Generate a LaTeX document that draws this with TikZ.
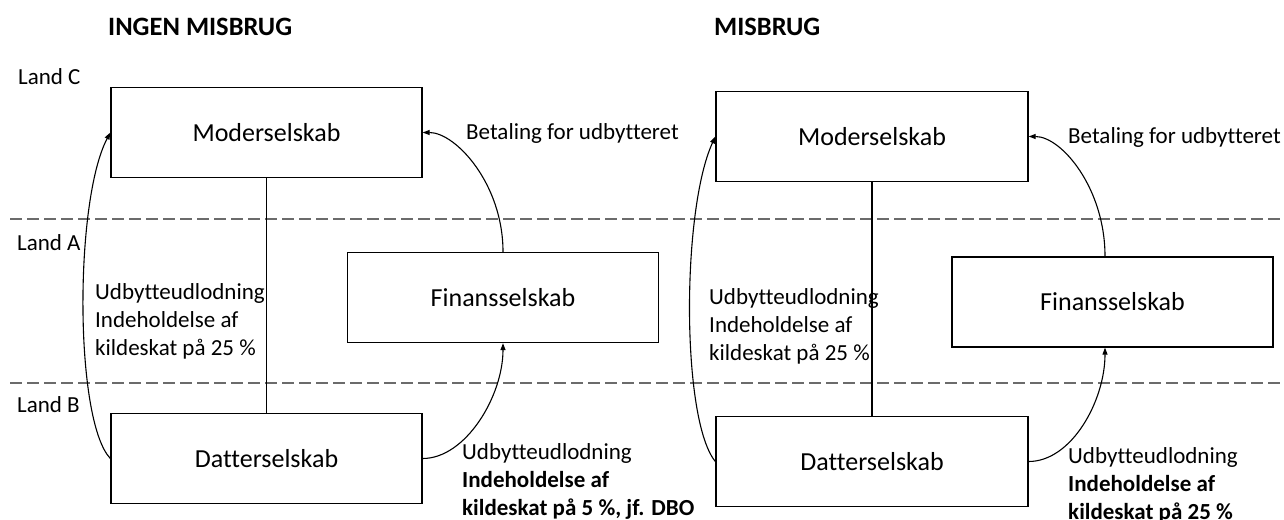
\documentclass[tikz,border=0pt]{standalone}
\usepackage{fontspec}
\setmainfont{Carlito}[Ligatures=NoCommon]
\usetikzlibrary{arrows.meta}
\begin{document}
\begin{tikzpicture}[x=1pt,y=-1pt,
  firm/.style={draw=black, line width=1.3pt, minimum height=90pt, inner sep=0pt,
               font=\fontsize{26}{30}\selectfont},
  lbl/.style={inner sep=0pt, anchor=west, align=left, font=\fontsize{23}{28}\selectfont},
  ttl/.style={inner sep=0pt, anchor=west, font=\fontsize{26.5}{30}\selectfont\bfseries},
  border/.style={draw=black!58, line width=1.8pt, dash pattern=on 12pt off 5pt},
  flow/.style={line width=1.1pt, -{Triangle[length=7pt,width=5pt]}},
  link/.style={line width=1.1pt},
]
\useasboundingbox (0,0) rectangle (1284,519);

% country borders
\coordinate (b1l) at (10,219);
\coordinate (b1r) at (1284,219);
\coordinate (b2l) at (10,383);
\coordinate (b2r) at (1284,383);
\draw[border] (b1l) -- (b1r);
\draw[border] (b2l) -- (b2r);

% country names
\node[lbl] (landC) at (18,77) {Land C};
\node[lbl] (landA) at (17,243) {Land A};
\node[lbl] (landB) at (17,405) {Land B};

% headings
\node[ttl] (ttlA) at (108,27) {INGEN MISBRUG};
\node[ttl] (ttlB) at (714,27) {MISBRUG};

% ---------- without abuse ----------
\node[firm, minimum width=311pt] (mA) at (266.5,132.5) {Moderselskab};
\node[firm, minimum width=311pt] (fA) at (503,297.5) {Finansselskab};
\node[firm, minimum width=311pt] (dA) at (266.5,458.5) {Datterselskab};

\draw[link] (mA.south) -- (dA.north);
\draw[flow] (dA.west) .. controls +(-36,-38) and +(-36,68) .. (mA.west);
\draw[flow] (dA.east) .. controls +(43,0) and +(0,53) .. (fA.south);
\draw[flow] (fA.north) .. controls +(0,-68) and +(33,0) .. (mA.east);

\node[lbl] (divA) at (95,321) {Udbytteudlodning\\Indeholdelse af\\kildeskat på 25 \%};
\node[lbl] (payA) at (466,133) {Betaling for udbytteret};
\node[lbl] (dtA) at (462,481) {Udbytteudlodning\\\textbf{Indeholdelse af}\\\textbf{kildeskat på 5 \%, jf. DBO}};

% ---------- with abuse ----------
\node[firm, minimum width=312pt] (mB) at (872,136.5) {Moderselskab};
\node[firm, minimum width=321pt] (fB) at (1112.5,302) {Finansselskab};
\node[firm, minimum width=312pt] (dB) at (872,461.5) {Datterselskab};

\coordinate (fBs) at ([xshift=-7.5pt]fB.south);
\coordinate (fBn) at ([xshift=-7.5pt]fB.north);

\draw[link] (mB.south) -- (dB.north);
\draw[flow] (dB.west) .. controls +(-34,-41) and +(-34,74) .. (mB.west);
\draw[flow] (dB.east) .. controls +(43,0) and +(0,53) .. (fBs);
\draw[flow] (fBn) .. controls +(0,-68) and +(33,0) .. (mB.east);

\node[lbl] (divB) at (709,326) {Udbytteudlodning\\Indeholdelse af\\kildeskat på 25 \%};
\node[lbl] (payB) at (1068,137) {Betaling for udbytteret};
\node[lbl] (dtB) at (1068,485) {Udbytteudlodning\\\textbf{Indeholdelse af}\\\textbf{kildeskat på 25 \%}};
\end{tikzpicture}
\end{document}
